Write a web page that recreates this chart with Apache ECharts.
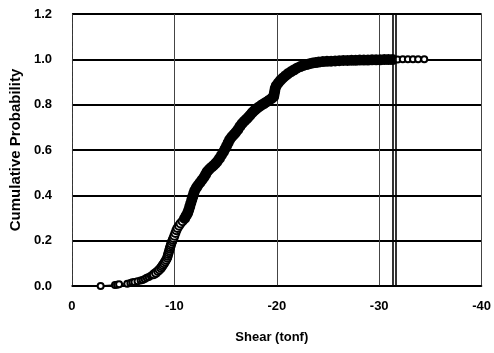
<!DOCTYPE html>
<html>
<head>
<meta charset="utf-8">
<script src="https://cdn.jsdelivr.net/npm/echarts@6/dist/echarts.min.js"></script>
<style>
  html, body { margin: 0; padding: 0; background: #fff; }
  #chart { width: 494px; height: 353px; }
</style>
</head>
<body>
<div id="chart"></div>
<script>
// shear (tonf) and cumulative probability
var shear = [
  -2.8, -4.2, -4.4, -4.6, -5.4, -5.7, -5.9, -6.1, -6.4, -6.7,
  -6.9, -7.1, -7.3, -7.5, -7.7, -7.85,
  -8.0, -8.2, -8.4, -8.55, -8.7, -8.8, -8.9, -9.0, -9.1, -9.2, -9.3,
  -9.35, -9.4, -9.45, -9.5, -9.55, -9.6, -9.65, -9.7, -9.78, -9.85, -9.92, -10.0,
  -10.1, -10.2, -10.3, -10.45, -10.6, -10.8, -11.0, -11.15, -11.3,
  -11.4, -11.5, -11.6, -11.7, -11.8, -11.9,
  -12.0, -12.15, -12.3, -12.5, -12.7, -12.9, -13.05, -13.2,
  -13.4, -13.6, -13.8, -14.0, -14.2, -14.4, -14.6, -14.8, -14.95, -15.1,
  -15.25, -15.4, -15.6, -15.8, -16.0, -16.2, -16.4,
  -16.6, -16.8, -17.0, -17.2, -17.4, -17.6, -17.8, -18.0,
  -18.25, -18.5, -18.75, -19.0, -19.25, -19.5, -19.7,
  -19.75, -19.8, -19.85, -19.95,
  -20.15, -20.35, -20.6, -20.85, -21.1, -21.4, -21.7, -22.0, -22.3,
  -22.6, -22.9, -23.2, -23.5, -23.8, -24.1, -24.5, -24.9,
  -25.3, -25.7, -26.1, -26.5, -26.9, -27.3, -27.7, -28.1, -28.5, -28.9,
  -29.3, -29.7, -30.1, -30.5, -30.9, -31.3,
  -31.8, -32.3, -32.8, -33.3, -33.8, -34.4
];
var cumProb = [
  0.000, 0.004, 0.006, 0.008, 0.010, 0.013, 0.016, 0.018, 0.021, 0.024,
  0.027, 0.031, 0.036, 0.040, 0.045, 0.048,
  0.052, 0.058, 0.066, 0.073, 0.080, 0.087, 0.094, 0.100, 0.108, 0.116, 0.125,
  0.133, 0.141, 0.149, 0.157, 0.165, 0.172, 0.180, 0.188, 0.196, 0.204, 0.212, 0.222,
  0.234, 0.246, 0.256, 0.266, 0.276, 0.286, 0.298, 0.310, 0.322,
  0.335, 0.350, 0.365, 0.380, 0.395, 0.410,
  0.422, 0.434, 0.444, 0.456, 0.468, 0.480, 0.492, 0.505,
  0.515, 0.523, 0.531, 0.540, 0.550, 0.563, 0.577, 0.592, 0.605, 0.618,
  0.632, 0.646, 0.658, 0.668, 0.678, 0.690, 0.704,
  0.716, 0.726, 0.735, 0.744, 0.754, 0.765, 0.774, 0.782,
  0.790, 0.798, 0.805, 0.812, 0.820, 0.828, 0.836,
  0.848, 0.860, 0.872, 0.884,
  0.896, 0.907, 0.918, 0.928, 0.937, 0.946, 0.954, 0.962, 0.968,
  0.973, 0.977, 0.981, 0.984, 0.986, 0.988, 0.990, 0.991,
  0.992, 0.993, 0.994, 0.995, 0.995, 0.996, 0.996, 0.997, 0.997, 0.997,
  0.998, 0.998, 0.998, 0.999, 0.999, 0.999,
  0.999, 1.000, 1.000, 1.000, 1.000, 1.000
];
// the double vertical limit line
var limitLines = [-31.33, -31.6];

var font = '"Liberation Sans", Arial, sans-serif';

// the dense middle of the curve reads as a solid thick band
function inBand(v) { return v[0] <= -10.9 && v[0] > -31.5; }

var chart = echarts.init(document.getElementById('chart'));
chart.setOption({
  animation: false,
  backgroundColor: '#fff',
  grid: { left: 70, right: 10, top: 14, bottom: 67 },
  xAxis: {
    type: 'value',
    min: -40,
    max: 0,
    interval: 10,
    inverse: true,
    name: 'Shear (tonf)',
    nameLocation: 'middle',
    nameGap: 45,
    nameTextStyle: { fontFamily: font, fontWeight: 'bold', fontSize: 13, color: '#000', padding: [0, 10, 0, 0] },
    axisLine: { show: true, lineStyle: { color: '#000', width: 1.5 } },
    axisTick: { show: false },
    axisLabel: { margin: 14, fontFamily: font, fontWeight: 'bold', fontSize: 13, color: '#000' },
    splitLine: { show: true, lineStyle: { color: '#444', width: 1 } }
  },
  yAxis: {
    type: 'value',
    min: 0,
    max: 1.2,
    interval: 0.2,
    name: 'Cumulative Probability',
    nameLocation: 'middle',
    nameGap: 43,
    nameTextStyle: { fontFamily: font, fontWeight: 'bold', fontSize: 15, color: '#000' },
    axisLine: { show: true, lineStyle: { color: '#333', width: 1, type: 'dashed' } },
    axisTick: { show: false },
    axisLabel: {
      margin: 20, fontFamily: font, fontWeight: 'bold', fontSize: 13, color: '#000',
      formatter: function (v) { return v.toFixed(1); }
    },
    splitLine: { show: true, lineStyle: { color: '#000', width: 1.8 } }
  },
  series: [
    {
      type: 'line',
      color: '#000',
      data: shear.map(function (s, i) { return [s, cumProb[i]]; }),
      symbol: function (v) { return inBand(v) ? 'circle' : 'emptyCircle'; },
      symbolSize: function (v) { return inBand(v) ? 9 : (v[0] <= -7.9 && v[0] > -31.5 ? 8 : 6); },
      itemStyle: { color: '#000', borderColor: '#000', borderWidth: 2 },
      lineStyle: { color: '#000', width: 1.5 },
      z: 3,
      markLine: {
        silent: true,
        symbol: 'none',
        label: { show: false },
        lineStyle: { color: '#000', width: 1.6, type: 'solid' },
        data: limitLines.map(function (v) { return { xAxis: v }; })
      }
    }
  ]
});
</script>
</body>
</html>
